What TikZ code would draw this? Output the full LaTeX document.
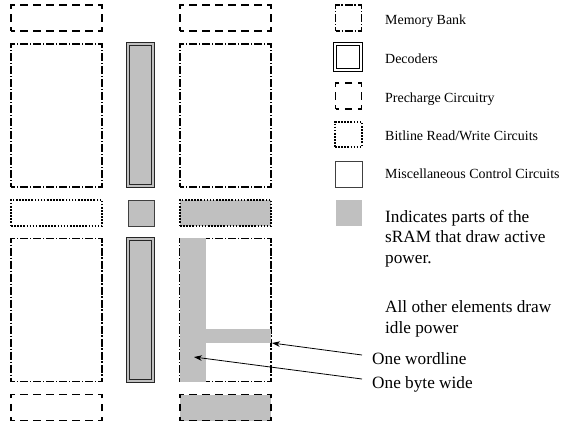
\documentclass[tikz,border=0pt]{standalone}
\usepackage{fontspec}
\setmainfont{Liberation Serif}
\usetikzlibrary{arrows.meta}
\definecolor{actgray}{HTML}{C0C0C0}
\begin{document}
\begin{tikzpicture}[x=1bp,y=-1bp,
  blk/.style={inner sep=0pt, outer sep=0pt, anchor=center},
  membank/.style={blk, draw=black, line width=1.2bp, dash pattern=on 8bp off 2bp on 1.2bp off 1.8bp, dash phase=4bp},
  precharge/.style={blk, draw=black, line width=1.6bp, dash pattern=on 7.5bp off 5.5bp, dash phase=3.75bp},
  bitline/.style={blk, draw=black, line width=1.7bp, dash pattern=on 1.6bp off 1.5bp},
  misc/.style={blk, draw=black!75, line width=0.9bp},
  active/.style={fill=actgray},
  bar/.style={blk, fill=actgray},
  decoder/.style={blk, draw=black!85, line width=0.9bp, double=actgray, double distance=1.8bp, fill=actgray},
  legdecoder/.style={blk, draw=black, line width=0.9bp, double=white, double distance=2bp},
  smalltxt/.style={inner sep=0pt, anchor=base west, font=\fontsize{14}{16}\selectfont},
  bigtxt/.style={inner sep=0pt, font=\fontsize{17.3}{20.5}\selectfont},
  arr/.style={draw=black, line width=0.8bp, -{Stealth[length=8bp,width=5.5bp]}}
]
\useasboundingbox (0,0) rectangle (566,425);
% left column
\node[precharge, minimum width=91bp, minimum height=26bp] (pc1) at (56.5,18) {};
\node[membank, minimum width=91bp, minimum height=143bp] (mb1) at (56.5,115.5) {};
\node[bitline, minimum width=91bp, minimum height=26bp] (bl1) at (56.5,213) {};
\node[membank, minimum width=91bp, minimum height=143bp] (mb2) at (56.5,310) {};
\node[precharge, minimum width=91bp, minimum height=26bp] (pc2) at (56.5,407.5) {};
% decoders and control
\node[decoder, minimum width=25.2bp, minimum height=142.2bp] (dec1) at (140.5,115) {};
\node[misc, active, minimum width=26bp, minimum height=26bp] (ctl) at (141,213) {};
\node[decoder, minimum width=25.2bp, minimum height=142.2bp] (dec2) at (140.5,310) {};
% right column
\node[precharge, minimum width=91bp, minimum height=26bp] (pc3) at (225.5,18) {};
\node[membank, minimum width=91bp, minimum height=143bp] (mb3) at (225.5,115.5) {};
\node[bitline, active, minimum width=91bp, minimum height=26bp] (bl2) at (225.5,213) {};
\node[membank, minimum width=91bp, minimum height=143bp] (mb4) at (225.5,310) {};
\node[precharge, active, minimum width=91bp, minimum height=26bp] (pc4) at (225.5,407.5) {};
\node[bar, minimum width=26bp, minimum height=144bp] (vbar) at (193,310) {};
\node[bar, minimum width=65bp, minimum height=14bp] (hbar) at (238.5,336) {};
% legend
\node[membank, minimum width=26bp, minimum height=26bp] (lg1) at (348.5,18) {};
\node[legdecoder, minimum width=26bp, minimum height=26bp] (lg2) at (348,57) {};
\node[precharge, minimum width=26bp, minimum height=26bp] (lg3) at (348.5,96) {};
\node[bitline, minimum width=27bp, minimum height=25bp] (lg4) at (348.5,134.5) {};
\node[misc, minimum width=27bp, minimum height=26bp] (lg5) at (348.5,174) {};
\node[bar, minimum width=26bp, minimum height=26bp] (lg6) at (349,213) {};
\node[smalltxt] (t1) at (385,24) {Memory Bank};
\node[smalltxt] (t2) at (385,63) {Decoders};
\node[smalltxt] (t3) at (385,102) {Precharge Circuitry};
\node[smalltxt] (t4) at (385,140) {Bitline Read/Write Circuits};
\node[smalltxt] (t5) at (385,178) {Miscellaneous Control Circuits};
\node[bigtxt, anchor=north west, align=left] (t6) at (385,210) {Indicates parts of the\\sRAM that draw active\\power.};
\node[bigtxt, anchor=north west, align=left] (t7) at (385,300.5) {All other elements draw\\idle power};
\node[bigtxt, anchor=base west] (t8) at (372,364) {One wordline};
\node[bigtxt, anchor=base west] (t9) at (372,388) {One byte wide};
% arrows
\coordinate (a1) at (362,355);
\coordinate (a2) at (362,379);
\coordinate (bytept) at (194,357);
\draw[arr] (a1) -- ([xshift=1bp]hbar.south east);
\draw[arr] (a2) -- (bytept);
\end{tikzpicture}
\end{document}
